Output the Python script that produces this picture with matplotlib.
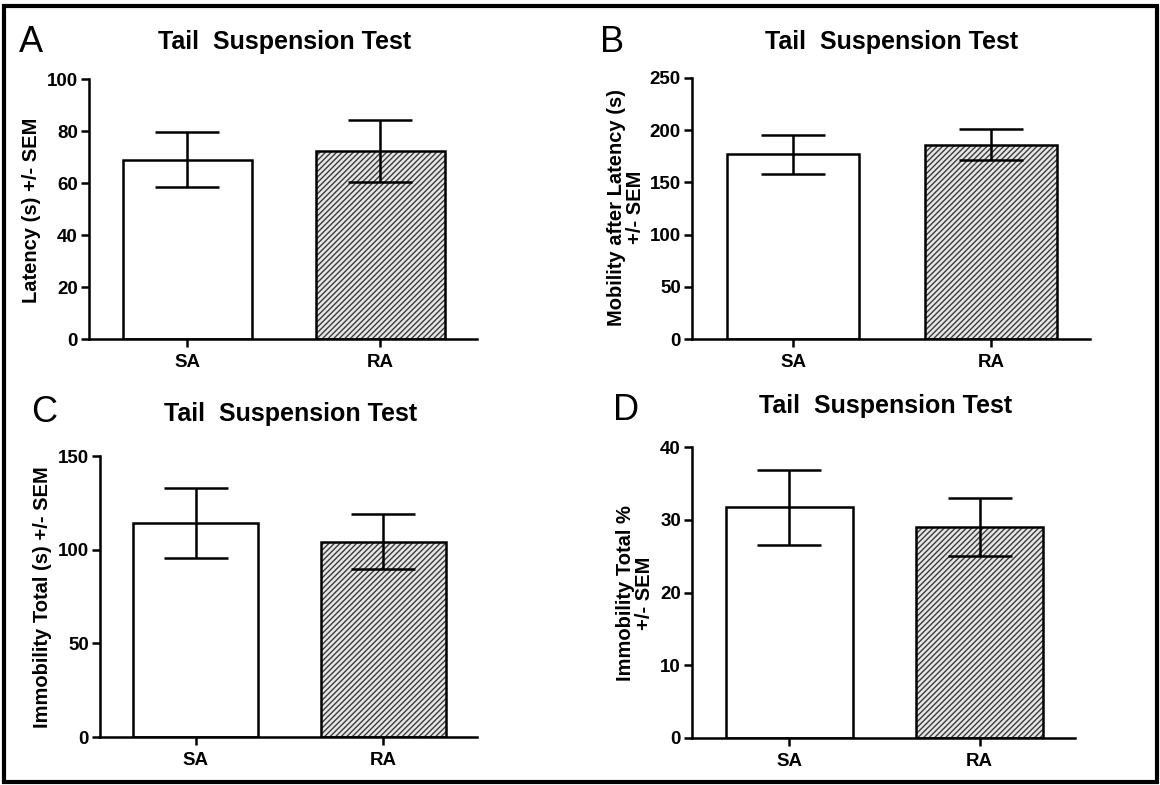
import numpy as np
import matplotlib
matplotlib.use("Agg")
import matplotlib.pyplot as plt
from matplotlib.patches import Rectangle

plt.rcParams['font.family'] = ['Liberation Sans', 'DejaVu Sans']
plt.rcParams['hatch.linewidth'] = 1.0

# data
groups = ['SA', 'RA']
latency = [69.0, 72.3]
latency_sem = [10.5, 11.8]
mobility = [177.0, 186.0]
mobility_sem = [18.5, 15.0]
immob_s = [114.2, 104.3]
immob_s_sem = [18.8, 14.7]
immob_pct = [31.7, 29.0]
immob_pct_sem = [5.2, 4.0]

W, H = 1160, 785
fig = plt.figure(figsize=(W / 100, H / 100), dpi=100)


def ax_at(left, top, right, bottom):
    # pixel box -> figure fraction
    return fig.add_axes([left / W, 1 - bottom / H, (right - left) / W, (bottom - top) / H])


panels = [
    # letter, box(px), values, sem, ymax, ystep, ylabel, ylabel x,y(px), title x,y, letter x,y
    ('A', (89, 79, 477, 339), latency, latency_sem, 100, 20,
     'Latency (s) +/- SEM', (32, 210), (285, 42), (31, 42)),
    ('B', (692, 78, 1090, 339), mobility, mobility_sem, 250, 50,
     'Mobility after Latency (s)\n+/- SEM', (626, 207), (892, 42), (612, 42)),
    ('C', (100, 456, 477, 737), immob_s, immob_s_sem, 150, 50,
     'Immobility Total (s) +/- SEM', (43, 597), (291, 414), (44, 412)),
    ('D', (692, 447, 1075, 738), immob_pct, immob_pct_sem, 40, 10,
     'Immobility Total %\n+/- SEM', (635, 593), (886, 406), (626, 410)),
]

x = np.arange(len(groups))
bw = 0.665
lw = 1.8

for letter, box, vals, sem, ymax, ystep, ylab, ylpos, tpos, lpos in panels:
    ax = ax_at(*box)
    # SA: white bar
    ax.bar(x[0], vals[0], bw, color='white', edgecolor='black', linewidth=lw, zorder=2)
    # RA: hatched bar, hatch drawn in grey then outline on top
    ax.bar(x[1], vals[1], bw, color='#e6e6e6', edgecolor='#3c3c3c', hatch='//////',
           linewidth=0, zorder=2)
    ax.bar(x[1], vals[1], bw, fill=False, edgecolor='black', linewidth=lw, zorder=3)
    ax.errorbar(x, vals, yerr=sem, fmt='none', ecolor='black', elinewidth=lw,
                capsize=23, capthick=lw, zorder=4)

    ax.set_xlim(-0.51, 1.5)
    ax.set_ylim(0, ymax)
    ax.set_yticks(np.arange(0, ymax + 1, ystep))
    ax.set_xticks(x)
    ax.set_xticklabels(groups)
    for s in ['top', 'right']:
        ax.spines[s].set_visible(False)
    for s in ['left', 'bottom']:
        ax.spines[s].set_linewidth(lw)
    ax.tick_params(axis='both', direction='out', length=6, width=lw, pad=2)
    for lab in ax.get_yticklabels():
        lab.set_fontsize(13.5)
        lab.set_fontweight('bold')
    for lab in ax.get_xticklabels():
        lab.set_fontsize(13.5)
        lab.set_fontweight('bold')
    ax.tick_params(axis='x', pad=5)

    fig.text(ylpos[0] / W, 1 - ylpos[1] / H, ylab, rotation=90, ha='center', va='center',
             fontsize=14.5, fontweight='bold', linespacing=1.0)
    fig.text(tpos[0] / W, 1 - tpos[1] / H, 'Tail  Suspension Test', ha='center', va='center',
             fontsize=18, fontweight='bold')
    fig.text(lpos[0] / W, 1 - lpos[1] / H, letter, ha='center', va='center', fontsize=26)

# black frame around the whole figure
fig.patches.append(Rectangle((4 / W, 1 - 782 / H), 1153 / W, 776 / H, transform=fig.transFigure,
                             fill=False, edgecolor='black', linewidth=3))

fig.savefig('out.png', dpi=100)
